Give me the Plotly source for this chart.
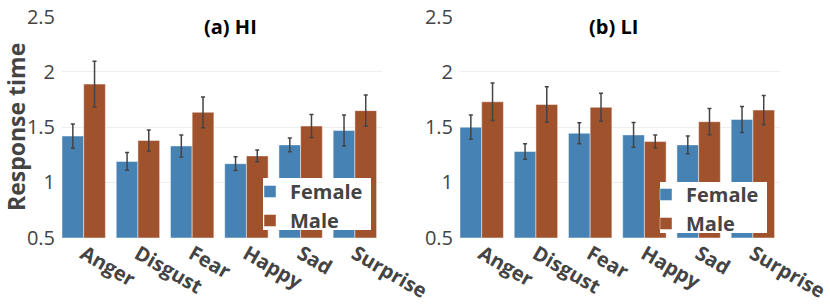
import plotly.graph_objects as go

categories = ["Anger", "Disgust", "Fear", "Happy", "Sad", "Surprise"]

hi_female = [1.42, 1.19, 1.33, 1.17, 1.34, 1.47]
hi_female_err = [0.11, 0.08, 0.10, 0.062, 0.063, 0.14]
hi_male = [1.89, 1.38, 1.635, 1.24, 1.51, 1.65]
hi_male_err = [0.207, 0.095, 0.139, 0.053, 0.104, 0.142]

li_female = [1.50, 1.28, 1.445, 1.43, 1.34, 1.57]
li_female_err = [0.11, 0.071, 0.095, 0.112, 0.081, 0.118]
li_male = [1.73, 1.705, 1.68, 1.37, 1.55, 1.655]
li_male_err = [0.17, 0.161, 0.127, 0.059, 0.119, 0.133]

FEMALE_COLOR = "#4682B4"
MALE_COLOR = "#A0522D"
FONT = "Open Sans"
W, H = 830, 304


def px_x(v):
    return v / W


def px_y(v):
    return 1 - v / H


def bar(name, x, y, err, color, xa, ya, legend):
    return go.Bar(
        name=name, x=x, y=y, xaxis=xa, yaxis=ya, legend=legend,
        marker=dict(color=color, line=dict(color="rgba(255,255,255,0.45)", width=1)),
        error_y=dict(type="data", array=err, visible=True, color="#444",
                     thickness=1.5, width=2),
    )


fig = go.Figure()
fig.add_trace(bar("Female", categories, hi_female, hi_female_err, FEMALE_COLOR, "x", "y", "legend"))
fig.add_trace(bar("Male", categories, hi_male, hi_male_err, MALE_COLOR, "x", "y", "legend"))
fig.add_trace(bar("Female", categories, li_female, li_female_err, FEMALE_COLOR, "x2", "y2", "legend2"))
fig.add_trace(bar("Male", categories, li_male, li_male_err, MALE_COLOR, "x2", "y2", "legend2"))

xcommon = dict(range=[-0.4, 5.5], tickangle=30, showgrid=False, showline=False,
               zeroline=False, ticks="", automargin=False,
               tickfont=dict(family=FONT, size=20, color="#444", weight=700))
ycommon = dict(range=[0.5, 2.5], dtick=0.5, tick0=0.5, showgrid=True, gridcolor="#eee",
               gridwidth=1, showline=False, zeroline=False, ticks="", automargin=False,
               ticklabelstandoff=6,
               tickfont=dict(family=FONT, size=20, color="#444"))

legend_font = dict(family=FONT, size=20, color="#444", weight=700)
ydom = [px_y(237.7), px_y(16.7)]
fig.update_layout(
    width=W, height=H,
    margin=dict(l=0, r=0, t=0, b=0),
    paper_bgcolor="white", plot_bgcolor="white",
    font=dict(family=FONT, color="#444"),
    barmode="group", bargap=0.2, bargroupgap=0,
    hovermode=False,
    xaxis=dict(domain=[px_x(62), px_x(382)], anchor="y", **xcommon),
    yaxis=dict(domain=ydom, anchor="x", **ycommon),
    xaxis2=dict(domain=[px_x(460), px_x(780)], anchor="y2", **xcommon),
    yaxis2=dict(domain=ydom, anchor="x2", **ycommon),
    legend=dict(x=px_x(250), y=px_y(172), xanchor="left", yanchor="top",
                bgcolor="rgba(0,0,0,0)", font=legend_font,
                tracegroupgap=0, itemwidth=30),
    legend2=dict(x=px_x(646), y=px_y(175), xanchor="left", yanchor="top",
                 bgcolor="rgba(0,0,0,0)", font=legend_font,
                 tracegroupgap=0, itemwidth=30),
    shapes=[
        dict(type="rect", xref="paper", yref="paper", layer="above",
             x0=px_x(263), x1=px_x(371), y0=px_y(230), y1=px_y(178),
             fillcolor="white", line=dict(width=0)),
        dict(type="rect", xref="paper", yref="paper", layer="above",
             x0=px_x(660), x1=px_x(767), y0=px_y(233), y1=px_y(182),
             fillcolor="white", line=dict(width=0)),
    ],
    annotations=[
        dict(text="(a) HI", x=px_x(230), y=px_y(27), xref="paper", yref="paper",
             xanchor="center", yanchor="middle", showarrow=False,
             font=dict(family=FONT, size=20, color="black", weight=700)),
        dict(text="(b) LI", x=px_x(613), y=px_y(27), xref="paper", yref="paper",
             xanchor="center", yanchor="middle", showarrow=False,
             font=dict(family=FONT, size=20, color="black", weight=700)),
        dict(text="Response time", x=px_x(16), y=px_y(127), xref="paper", yref="paper",
             xanchor="center", yanchor="middle", showarrow=False, textangle=-90,
             font=dict(family=FONT, size=23, color="#444", weight=700)),
    ],
)

fig.write_html("out.html", config={"displayModeBar": False},
               post_script="document.body.style.margin='0px';")
